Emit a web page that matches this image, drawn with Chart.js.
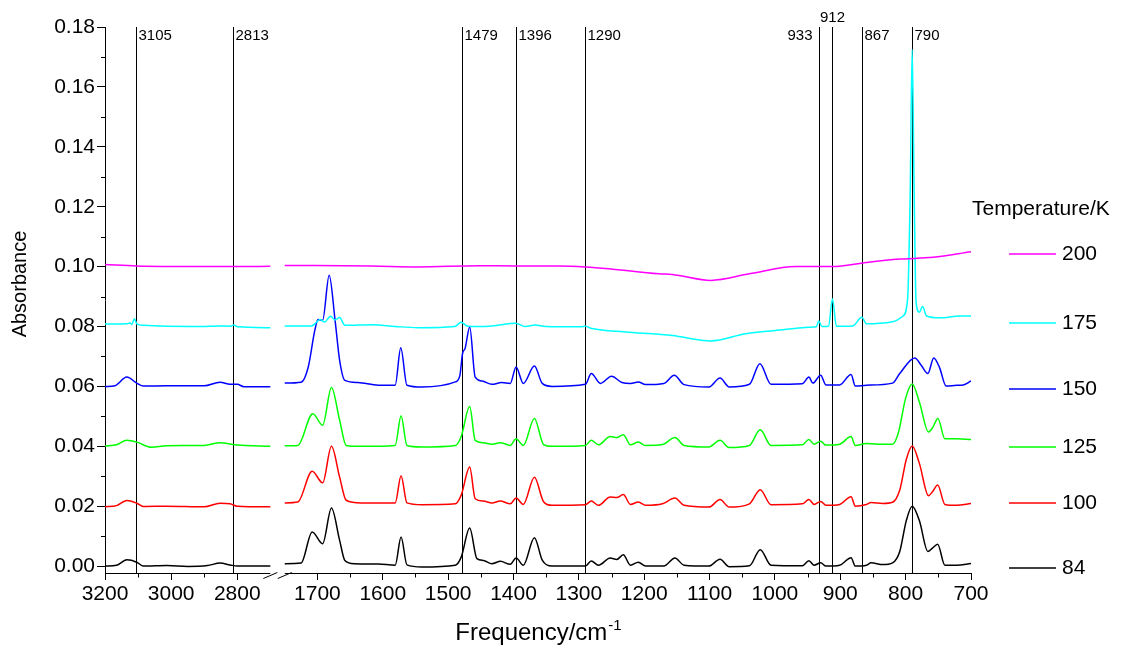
<!DOCTYPE html>
<html>
<head>
<meta charset="utf-8">
<script src="https://cdn.jsdelivr.net/npm/chart.js@4.4.1/dist/chart.umd.min.js"></script>
<style>
  html, body { margin: 0; padding: 0; background: #fff; }
  canvas { display: block; }
</style>
</head>
<body>
<canvas id="myChart" width="1123" height="645"></canvas>
<script>
'use strict';

// spectra, [frequency cm-1, absorbance] (already offset)
const k84 = [
  [3200,0.0000],[3165,0.0003],[3134,0.0021],[3104,0.0013],[3084,0.0000],[3013,0.0002],[2950,-0.0001],
  [2890,0.0002],[2852,0.0010],[2822,0.0004],[2800,0.0000],[2700,0.0000],
  [1750,0.0008],[1725,0.0010],[1708,0.0114],[1692,0.0075],[1678.5,0.0194],[1666,0.0086],[1658,0.0019],
  [1643,0.0008],[1607,0.0007],[1581,0.0003],[1572,0.0097],[1563,0.0004],[1540,-0.0003],[1489,0.0003],
  [1480,0.0030],[1467,0.0127],[1456,0.0025],[1446,0.0019],[1433,0.0008],[1420,0.0016],[1405,0.0006],
  [1396,0.0027],[1385,0.0003],[1368,0.0095],[1356,0.0020],[1341,0.0000],[1290,0.0000],[1281,0.0017],
  [1270,0.0003],[1252,0.0027],[1242,0.0022],[1232,0.0038],[1221,0.0003],[1209,0.0013],[1198,0.0000],
  [1170,0.0000],[1153,0.0027],[1139,0.0003],[1101,0.0000],[1084,0.0023],[1070,-0.0002],[1039,0.0001],
  [1022.5,0.0055],[1006,0.0003],[958,0.0001],[948,0.0018],[940,0.0003],[930,0.0011],[922,0.0000],
  [901,0.0003],[883.5,0.0028],[877,0.0000],[860,0.0003],[853,0.0011],[835,0.0005],[820,0.0011],
  [809,0.0049],[799,0.0152],[790,0.0200],[779,0.0152],[766,0.0049],[759,0.0060],[751,0.0073],
  [740,0.0003],[722,0.0003],[700,0.0009]
];
const k100 = [
  [3200,0.0198],[3165,0.0202],[3134,0.0219],[3104,0.0210],[3084,0.0199],[3013,0.0200],[2900,0.0198],
  [2852,0.0210],[2822,0.0208],[2800,0.0200],[2700,0.0198],
  [1750,0.0211],[1730,0.0214],[1708,0.0317],[1692,0.0278],[1678.5,0.0400],[1666,0.0297],[1656,0.0220],
  [1633,0.0211],[1581,0.0211],[1572,0.0302],[1563,0.0211],[1540,0.0205],[1489,0.0208],[1480,0.0237],
  [1467,0.0331],[1458.6,0.0225],[1446,0.0217],[1433,0.0211],[1420,0.0217],[1405,0.0208],[1396,0.0227],
  [1385,0.0206],[1368,0.0297],[1354,0.0215],[1341,0.0203],[1290,0.0205],[1281,0.0217],[1270,0.0203],
  [1252,0.0231],[1242,0.0229],[1232,0.0239],[1221,0.0206],[1209,0.0214],[1198,0.0203],[1172,0.0208],
  [1153,0.0227],[1139,0.0203],[1101,0.0197],[1084,0.0222],[1070,0.0197],[1039,0.0208],[1022.5,0.0255],
  [1006,0.0205],[958,0.0208],[948,0.0222],[940,0.0206],[930,0.0216],[922,0.0203],[901,0.0206],
  [883.5,0.0232],[877,0.0200],[860,0.0206],[853,0.0212],[835,0.0209],[820,0.0213],[809,0.0254],
  [799,0.0356],[790,0.0401],[779,0.0343],[765,0.0235],[759,0.0248],[751,0.0271],[740,0.0206],
  [722,0.0203],[700,0.0209]
];
const k125 = [
  [3200,0.0401],[3165,0.0405],[3134,0.0420],[3104,0.0414],[3060,0.0397],[3013,0.0402],[2900,0.0403],
  [2852,0.0412],[2800,0.0404],[2700,0.0400],
  [1750,0.0402],[1730,0.0403],[1707,0.0509],[1692,0.0470],[1678.5,0.0596],[1666,0.0487],[1656,0.0403],
  [1633,0.0400],[1581,0.0403],[1572,0.0502],[1563,0.0403],[1540,0.0398],[1489,0.0403],[1480,0.0433],
  [1467,0.0533],[1458.6,0.0420],[1446,0.0412],[1433,0.0407],[1420,0.0412],[1405,0.0403],[1396,0.0425],
  [1385,0.0403],[1368,0.0493],[1354,0.0406],[1341,0.0400],[1290,0.0403],[1281,0.0420],[1270,0.0405],
  [1252,0.0433],[1242,0.0429],[1232,0.0439],[1221,0.0405],[1209,0.0414],[1198,0.0403],[1172,0.0406],
  [1153,0.0429],[1139,0.0403],[1101,0.0398],[1084,0.0420],[1070,0.0396],[1039,0.0403],[1022.5,0.0455],
  [1006,0.0403],[958,0.0405],[948,0.0423],[940,0.0407],[930,0.0417],[922,0.0404],[901,0.0407],
  [883.5,0.0433],[877,0.0403],[860,0.0409],[835,0.0407],[820,0.0407],[811,0.0446],[800,0.0561],
  [790,0.0608],[779,0.0548],[765,0.0448],[758,0.0465],[750.6,0.0493],[740,0.0425],[722,0.0425],
  [700,0.0423]
];
const k150 = [
  [3200,0.0599],[3170,0.0602],[3134,0.0631],[3104,0.0611],[3084,0.0601],[3013,0.0602],[2900,0.0602],
  [2852,0.0614],[2822,0.0607],[2800,0.0607],[2780,0.0599],[2700,0.0599],
  [1750,0.0611],[1725,0.0614],[1714,0.0665],[1704,0.0787],[1699,0.0823],[1692,0.0821],[1682,0.0971],
  [1673,0.0821],[1666,0.0687],[1658,0.0620],[1638,0.0613],[1607,0.0604],[1581,0.0604],[1572.5,0.0729],
  [1563,0.0604],[1540,0.0598],[1489,0.0615],[1482,0.0637],[1478,0.0709],[1474,0.0727],[1467,0.0798],
  [1458.6,0.0631],[1448,0.0618],[1433,0.0607],[1418,0.0613],[1405,0.0610],[1396,0.0665],[1385,0.0610],
  [1368,0.0668],[1356,0.0610],[1341,0.0600],[1290,0.0607],[1281,0.0643],[1267,0.0610],[1250,0.0634],
  [1234,0.0613],[1221,0.0610],[1209,0.0615],[1198,0.0606],[1170,0.0610],[1154,0.0637],[1139,0.0606],
  [1101,0.0598],[1084,0.0628],[1070,0.0598],[1039,0.0607],[1023,0.0676],[1006,0.0607],[958,0.0609],
  [948,0.0631],[942,0.0611],[930,0.0637],[922,0.0605],[901,0.0605],[883.5,0.0640],[877,0.0601],
  [860,0.0604],[820,0.0611],[809,0.0643],[786,0.0695],[776,0.0670],[766,0.0643],[757,0.0695],
  [748,0.0662],[738,0.0601],[722,0.0604],[712,0.0605],[700,0.0618]
];
const k175 = [
  [3200,0.0808],[3134,0.0809],[3124,0.0812],[3119,0.0807],[3111,0.0826],[3104,0.0809],[3084,0.0804],
  [2912,0.0800],[2852,0.0802],[2820,0.0801],[2811,0.0805],[2799,0.0799],[2700,0.0796],
  [1750,0.0802],[1709,0.0802],[1701,0.0815],[1696,0.0823],[1689,0.0815],[1680,0.0834],[1673,0.0822],
  [1666,0.0830],[1658,0.0804],[1617,0.0806],[1581,0.0800],[1546,0.0796],[1490,0.0800],[1480,0.0814],
  [1471,0.0802],[1453,0.0800],[1433,0.0802],[1407,0.0809],[1397,0.0811],[1382,0.0800],[1367,0.0805],
  [1351,0.0800],[1295,0.0799],[1291,0.0802],[1280,0.0793],[1229,0.0782],[1178,0.0774],[1157,0.0770],
  [1098,0.0752],[1045,0.0776],[988,0.0789],[940,0.0798],[937,0.0798],[933,0.0818],[928,0.0800],
  [918,0.0801],[912,0.0893],[906,0.0801],[881,0.0802],[867,0.0831],[860,0.0809],[820,0.0816],
  [804,0.0835],[797,0.0893],[793,0.1250],[790,0.1725],[787,0.1250],[784,0.0880],[779,0.0848],
  [774,0.0867],[768,0.0835],[748,0.0829],[717,0.0835],[700,0.0835]
];
const k200 = [
  [3200,0.1007],[3104,0.1002],[2912,0.1000],[2811,0.1000],[2700,0.1001],
  [1750,0.1004],[1617,0.1002],[1546,0.0999],[1453,0.1003],[1397,0.1002],[1331,0.1002],[1290,0.0999],
  [1254,0.0993],[1178,0.0976],[1157,0.0974],[1098,0.0954],[1039,0.0976],[968,0.1000],[932,0.1000],
  [912,0.1000],[860,0.1014],[809,0.1025],[758,0.1031],[700,0.1050]
];

const temps = ['200', '175', '150', '125', '100', '84'];
const spectra = [k200, k175, k150, k125, k100, k84];
const colors = ['#FF00FF', '#00FFFF', '#0000FF', '#00FF00', '#FF0000', '#000000'];

const refLines = [3105, 2813, 1479, 1396, 1290, 933, 912, 867, 790];
const xTickLabels = [3200, 3000, 2800, 1700, 1600, 1500, 1400, 1300, 1200, 1100, 1000, 900, 800, 700];
const xMinor = [3100, 2900, 1650, 1550, 1450, 1350, 1250, 1150, 1050, 950, 850, 750];
const yTickLabels = [0, 0.02, 0.04, 0.06, 0.08, 0.10, 0.12, 0.14, 0.16, 0.18];
const yMinor = [0.01, 0.03, 0.05, 0.07, 0.09, 0.11, 0.13, 0.15, 0.17];

// broken axis: 3200-2700 compressed, then 1750-700
function toU(f) {
  return f >= 2700 ? (3200 - f) * 0.506 : 275 + (1750 - f);
}

function toPoints(arr) {
  let pts = [];
  arr.forEach(function (p, i) {
    if (i > 0 && arr[i - 1][0] >= 2700 && p[0] < 2700) {
      pts.push({ x: toU(2700) + 5, y: null });
    }
    pts.push({ x: toU(p[0]), y: p[1] });
  });
  return pts;
}

const FONT = 'Liberation Sans, Arial, sans-serif';

const extras = {
  id: 'extras',
  beforeDatasetsDraw(chart) {
    const ctx = chart.ctx;
    const xs = chart.scales.x;
    const area = chart.chartArea;
    ctx.save();
    ctx.strokeStyle = '#000';
    ctx.lineWidth = 1;
    ctx.fillStyle = '#000';
    ctx.font = '15px ' + FONT;
    ctx.textBaseline = 'alphabetic';
    refLines.forEach(function (f) {
      const px = Math.round(xs.getPixelForValue(toU(f))) + 0.5;
      ctx.beginPath();
      ctx.moveTo(px, area.top);
      ctx.lineTo(px, area.bottom);
      ctx.stroke();
      if (f === 933) {
        ctx.textAlign = 'right';
        ctx.fillText(String(f), px - 7, 40);
      } else if (f === 912) {
        ctx.textAlign = 'center';
        ctx.fillText(String(f), px, 22);
      } else {
        ctx.textAlign = 'left';
        ctx.fillText(String(f), px + 2, 40);
      }
    });
    ctx.restore();
  },
  afterDraw(chart) {
    const ctx = chart.ctx;
    const xs = chart.scales.x;
    const ys = chart.scales.y;
    const area = chart.chartArea;
    ctx.save();
    ctx.strokeStyle = '#000';
    ctx.lineWidth = 1;

    // x axis line in two pieces with break marks
    const by = Math.round(area.bottom) + 0.5;
    const xEndL = xs.getPixelForValue(toU(2700));
    const xStartR = xs.getPixelForValue(toU(1750));
    ctx.beginPath();
    ctx.moveTo(area.left, by);
    ctx.lineTo(xEndL, by);
    ctx.moveTo(xStartR, by);
    ctx.lineTo(area.right, by);
    [xEndL, xStartR].forEach(function (xe) {
      ctx.moveTo(xe - 7, by + 5);
      ctx.lineTo(xe + 7, by - 1);
    });
    ctx.stroke();

    // minor ticks
    ctx.beginPath();
    xMinor.forEach(function (f) {
      const px = Math.round(xs.getPixelForValue(toU(f))) + 0.5;
      ctx.moveTo(px, by);
      ctx.lineTo(px, by + 4);
    });
    yMinor.forEach(function (v) {
      const py = Math.round(ys.getPixelForValue(v)) + 0.5;
      ctx.moveTo(area.left, py);
      ctx.lineTo(area.left - 4, py);
    });
    ctx.stroke();

    // axis titles
    ctx.fillStyle = '#000';
    ctx.save();
    ctx.translate(20, 284);
    ctx.rotate(-Math.PI / 2);
    ctx.font = '20px ' + FONT;
    ctx.textAlign = 'center';
    ctx.textBaseline = 'middle';
    ctx.fillText('Absorbance', 0, 0);
    ctx.restore();

    ctx.font = '24px ' + FONT;
    const main = 'Frequency/cm';
    const wMain = ctx.measureText(main).width;
    ctx.font = '15px ' + FONT;
    const wSup = ctx.measureText('-1').width;
    const x0 = (area.left + area.right) / 2 - (wMain + wSup) / 2;
    ctx.textAlign = 'left';
    ctx.textBaseline = 'alphabetic';
    ctx.font = '24px ' + FONT;
    ctx.fillText(main, x0, 640);
    ctx.font = '15px ' + FONT;
    ctx.fillText('-1', x0 + wMain + 1, 630);

    // legend
    const legendY = [254, 323, 389, 447, 503, 568];
    ctx.font = '21px ' + FONT;
    ctx.textBaseline = 'middle';
    ctx.fillText('Temperature/K', 972, 209);
    temps.forEach(function (t, i) {
      ctx.strokeStyle = colors[i];
      ctx.lineWidth = 1.5;
      ctx.beginPath();
      ctx.moveTo(1009, legendY[i]);
      ctx.lineTo(1056, legendY[i]);
      ctx.stroke();
      ctx.fillStyle = '#000';
      ctx.fillText(t, 1062, legendY[i]);
    });
    ctx.restore();
  }
};

const ctx = document.getElementById('myChart').getContext('2d');
const myChart = new Chart(ctx, {
  type: 'line',
  data: {
    datasets: spectra.map(function (s, i) {
      return {
        label: temps[i],
        data: toPoints(s),
        borderColor: colors[i],
        borderWidth: 1.5,
        pointRadius: 0,
        fill: false,
        spanGaps: false,
        cubicInterpolationMode: 'monotone'
      };
    })
  },
  options: {
    responsive: false,
    animation: false,
    devicePixelRatio: 1,
    layout: { padding: { top: 27, right: 152, left: 0, bottom: 0 } },
    plugins: {
      legend: { display: false },
      tooltip: { enabled: false }
    },
    scales: {
      x: {
        type: 'linear',
        min: 0,
        max: toU(700),
        border: { display: false },
        grid: { drawOnChartArea: false, tickLength: 7, color: '#000', lineWidth: 1 },
        ticks: {
          color: '#000',
          font: { family: FONT, size: 21 },
          padding: 2,
          maxRotation: 0,
          autoSkip: false,
          callback: function (v, i) { return String(xTickLabels[i]); }
        },
        afterBuildTicks: function (scale) {
          scale.ticks = xTickLabels.map(function (f) { return { value: toU(f) }; });
        },
        afterFit: function (scale) { scale.height = 72; }
      },
      y: {
        min: -0.0023,
        max: 0.18,
        border: { display: true, color: '#000', width: 1 },
        grid: { drawOnChartArea: false, tickLength: 8, color: '#000', lineWidth: 1 },
        ticks: {
          color: '#000',
          font: { family: FONT, size: 21 },
          padding: 2,
          callback: function (v) { return v.toFixed(2); }
        },
        afterBuildTicks: function (scale) {
          scale.ticks = yTickLabels.map(function (v) { return { value: v }; });
        },
        afterFit: function (scale) { scale.width = 105; }
      }
    }
  },
  plugins: [extras]
});
</script>
</body>
</html>
